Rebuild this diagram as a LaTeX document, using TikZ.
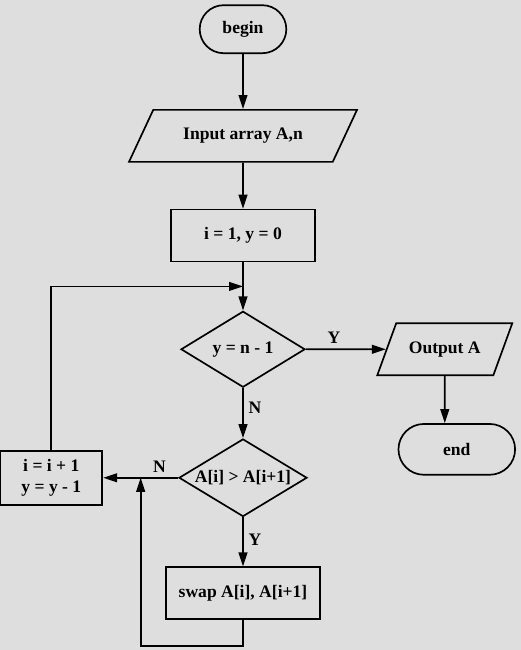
\documentclass[tikz,border=0pt]{standalone}
\usepackage{fontspec}
\setmainfont{Liberation Serif}
\usetikzlibrary{shapes,arrows,positioning,calc,arrows.meta}

\begin{document}
\begin{tikzpicture}[auto, node distance=1.3cm, line width=1.2pt,
    every node/.style={font=\bfseries\fontsize{12.5}{15.5}\selectfont},
    terminal/.style={draw, rounded rectangle},
    io/.style={draw, trapezium, trapezium stretches body, text height=0.3cm, text depth=0.1cm, inner ysep=0.45cm},
    process/.style={draw, rectangle, align=center},
    decision/.style={draw, diamond, inner sep=0pt},
    flow/.style={-{Triangle[length=0.35cm, width=0.22cm]}}]
    \fill [black!13] (0,0) rectangle (13.025,-16.25);
    \useasboundingbox (0,0) rectangle (13.025,-16.25);

    \node [terminal, minimum width=2.4cm, minimum height=1.2cm] (begin) at (6.075,-0.73) {begin};
    \node [io, below=1.375cm of begin, minimum width=5.7cm,
           trapezium left angle=65, trapezium right angle=115] (input) {Input array A,n};
    \node [process, below=1.15cm of input, minimum width=3.6cm, minimum height=1.3cm] (init) {i = 1, y = 0};
    \node [decision, below=1.2cm of init, minimum width=3.1cm, minimum height=1.9cm] (chk) {\makebox[0pt]{y = n - 1}};
    \node [decision, below=1.25cm of chk, minimum width=3.2cm, minimum height=1.94cm] (cmp) {\makebox[0pt]{A[i] > A[i+1]}};
    \node [process, below=1.225cm of cmp, minimum width=3.85cm, minimum height=1.3cm] (swap) {swap A[i], A[i+1]};

    \node [io, right=2.0cm of chk, minimum width=3.375cm,
           trapezium left angle=70, trapezium right angle=110] (out) {Output A};
    \node [terminal, below=1.175cm of out, xshift=0.3cm, minimum width=3.15cm, minimum height=1.27cm] (end) {end};

    \node [process, left=1.875cm of cmp, minimum width=2.55cm, minimum height=1.35cm] (inc) {i = i + 1\\y = y - 1};

    % loop points
    \coordinate (join) at ($(init.south)!0.5!(chk.north)$);
    \coordinate (mrg) at ($(inc.east)!0.5!(cmp.west)$);
    \coordinate [below=0.65cm of swap] (bot);

    \draw [flow] (begin) -- (input);
    \draw [flow] (input) -- (init);
    \draw [flow] (init) -- (chk);
    \draw [flow] (chk) -- node [above, pos=0.35] {Y} (out);
    \draw [flow] (out) -- (out |- end.north);
    \draw [flow] (chk) -- node [right, pos=0.4] {N} (cmp);
    \draw [flow] (cmp) -- node [above, pos=0.25] {N} (inc);
    \draw [flow] (cmp) -- node [right, pos=0.45] {Y} (swap);
    \draw [flow] (inc) |- (join);
    \draw [flow] (swap) -- (bot) -| (mrg);
\end{tikzpicture}
\end{document}
